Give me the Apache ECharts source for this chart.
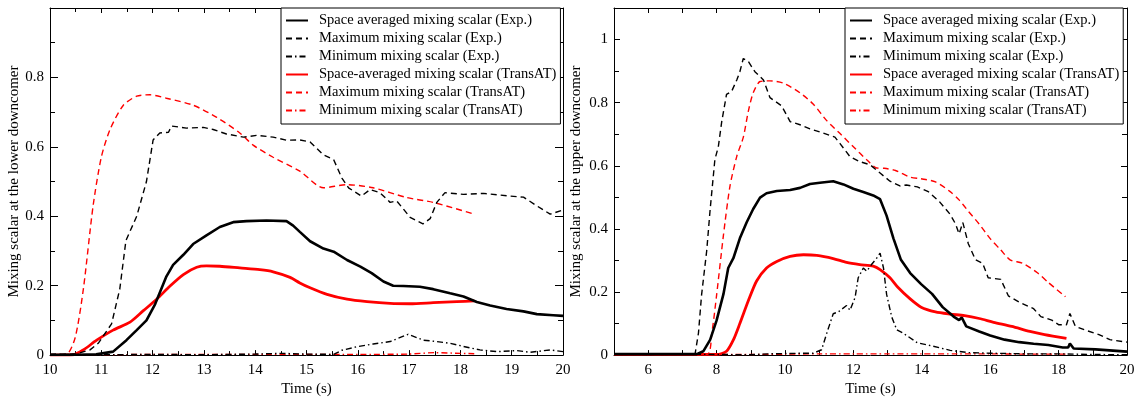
<!DOCTYPE html>
<html>
<head>
<meta charset="utf-8">
<script src="https://cdn.jsdelivr.net/npm/echarts@6/dist/echarts.min.js"></script>
<style>
  html, body { margin: 0; padding: 0; background: #fff; }
  #chart { width: 1138px; height: 402px; }
</style>
</head>
<body>
<div id="chart"></div>
<script>
// lower downcomer (left panel), [time s, mixing scalar]
const lowerAvgExp = [[10,0.001],[10.5,0.001],[10.9,0.002],[11.23,0.01],[11.49,0.043],[11.69,0.072],[11.88,0.1],[12.05,0.147],[12.27,0.227],[12.4,0.26],[12.6,0.289],[12.79,0.32],[13.05,0.345],[13.31,0.369],[13.57,0.383],[13.83,0.386],[14.22,0.388],[14.61,0.386],[14.74,0.373],[14.87,0.355],[15.07,0.328],[15.33,0.307],[15.53,0.298],[15.79,0.274],[16.05,0.255],[16.27,0.236],[16.5,0.212],[16.69,0.2],[16.89,0.199],[17.21,0.197],[17.47,0.19],[17.8,0.178],[18.06,0.169],[18.32,0.153],[18.58,0.143],[18.9,0.133],[19.23,0.126],[19.49,0.118],[19.81,0.115],[20,0.113]];
const lowerMaxExp = [[10,0.002],[10.5,0.003],[10.78,0.015],[10.94,0.034],[11.2,0.09],[11.36,0.19],[11.48,0.33],[11.69,0.4],[11.88,0.5],[12.01,0.62],[12.14,0.64],[12.31,0.642],[12.37,0.66],[12.66,0.654],[12.99,0.656],[13.18,0.65],[13.44,0.637],[13.77,0.628],[14.03,0.633],[14.35,0.628],[14.61,0.619],[14.87,0.62],[15.07,0.614],[15.33,0.577],[15.53,0.563],[15.69,0.51],[15.82,0.482],[16.07,0.458],[16.24,0.477],[16.43,0.468],[16.63,0.44],[16.76,0.444],[17.02,0.397],[17.27,0.378],[17.41,0.393],[17.54,0.44],[17.7,0.468],[18.06,0.463],[18.45,0.466],[18.97,0.458],[19.23,0.455],[19.49,0.43],[19.75,0.406],[20,0.418]];
const lowerMinExp = [[10,0.002],[11,0.001],[12,0.002],[13,0.001],[14,0.003],[14.5,0.005],[15,0.003],[15.53,0.002],[15.69,0.014],[15.98,0.024],[16.3,0.032],[16.63,0.039],[16.98,0.06],[17.28,0.043],[17.54,0.039],[17.8,0.034],[18.06,0.025],[18.38,0.015],[18.71,0.01],[19.1,0.013],[19.36,0.008],[19.75,0.015],[20,0.01]];
const lowerAvgSim = [[10,0],[10.45,0.001],[10.65,0.015],[10.91,0.043],[11.23,0.072],[11.56,0.095],[11.82,0.128],[12.08,0.161],[12.34,0.199],[12.6,0.232],[12.86,0.253],[13.05,0.257],[13.31,0.256],[13.7,0.251],[14.09,0.246],[14.35,0.24],[14.68,0.224],[14.87,0.208],[15.07,0.194],[15.4,0.175],[15.79,0.161],[16.18,0.154],[16.63,0.149],[17.02,0.148],[17.47,0.151],[17.93,0.154],[18.27,0.156]];
const lowerMaxSim = [[10,0],[10.32,0.002],[10.49,0.05],[10.65,0.19],[10.84,0.43],[11.0,0.57],[11.17,0.65],[11.43,0.72],[11.69,0.746],[11.95,0.75],[12.27,0.74],[12.79,0.72],[13.25,0.685],[13.7,0.64],[13.96,0.605],[14.35,0.57],[14.87,0.53],[15.33,0.482],[15.79,0.491],[16.3,0.482],[16.95,0.454],[17.47,0.44],[18.27,0.406]];
const lowerMinSim = [[10,0.001],[11,0.001],[12,0.002],[13,0.002],[14,0.002],[15,0.002],[16,0.002],[17,0.003],[17.5,0.007],[18,0.005],[18.27,0.004]];

// upper downcomer (right panel)
const upperAvgExp = [[5,0.003],[6,0.003],[7,0.003],[7.42,0.003],[7.61,0.012],[7.81,0.048],[8.0,0.11],[8.2,0.193],[8.34,0.276],[8.49,0.307],[8.68,0.37],[8.88,0.421],[9.07,0.463],[9.27,0.499],[9.46,0.513],[9.76,0.52],[10.15,0.523],[10.44,0.53],[10.73,0.542],[11.02,0.546],[11.41,0.551],[11.71,0.541],[12.0,0.527],[12.29,0.517],[12.58,0.506],[12.78,0.494],[12.97,0.442],[13.17,0.37],[13.39,0.302],[13.66,0.26],[13.98,0.225],[14.3,0.194],[14.61,0.152],[14.93,0.122],[15.09,0.111],[15.17,0.119],[15.3,0.091],[15.68,0.075],[16.0,0.062],[16.42,0.049],[16.85,0.041],[17.27,0.036],[17.7,0.032],[18.12,0.024],[18.28,0.024],[18.33,0.037],[18.44,0.021],[19.08,0.018],[20,0.011]];
const upperMaxExp = [[5,0.003],[7.37,0.003],[7.47,0.07],[7.56,0.19],[7.71,0.33],[7.81,0.46],[7.95,0.62],[8.05,0.66],[8.15,0.74],[8.29,0.826],[8.44,0.836],[8.59,0.872],[8.68,0.898],[8.78,0.94],[8.93,0.93],[9.12,0.898],[9.37,0.872],[9.56,0.816],[9.9,0.79],[10.15,0.74],[10.44,0.73],[10.73,0.717],[11.02,0.707],[11.32,0.696],[11.46,0.691],[11.61,0.67],[11.9,0.629],[12.19,0.613],[12.49,0.603],[12.78,0.577],[13.07,0.551],[13.36,0.536],[13.55,0.539],[13.87,0.533],[14.19,0.518],[14.51,0.487],[14.83,0.446],[14.99,0.415],[15.09,0.384],[15.2,0.42],[15.36,0.353],[15.57,0.302],[15.78,0.291],[15.94,0.245],[16.31,0.24],[16.53,0.188],[16.85,0.168],[17.27,0.147],[17.48,0.122],[17.8,0.111],[18.01,0.096],[18.23,0.096],[18.33,0.132],[18.49,0.091],[18.76,0.08],[19.18,0.065],[19.5,0.049],[20,0.041]];
const upperMinExp = [[5,0.003],[6,0.002],[7,0.003],[8,0.002],[9,0.001],[9.5,0.004],[10,0.005],[10.5,0.006],[10.83,0.006],[11.07,0.017],[11.22,0.069],[11.41,0.131],[11.56,0.137],[11.8,0.157],[11.9,0.142],[12.05,0.183],[12.14,0.245],[12.29,0.276],[12.39,0.266],[12.53,0.287],[12.68,0.307],[12.78,0.323],[12.88,0.276],[12.97,0.193],[13.12,0.121],[13.27,0.08],[13.45,0.07],[13.87,0.039],[14.3,0.029],[14.83,0.015],[15.36,0.008],[16,0.006],[17,0.004],[18,0.004],[19,0.002],[20,0.001]];
const upperAvgSim = [[5,0.002],[8.0,0.002],[8.29,0.012],[8.49,0.048],[8.68,0.1],[8.93,0.173],[9.17,0.235],[9.46,0.276],[9.76,0.297],[10.15,0.313],[10.54,0.318],[10.93,0.316],[11.41,0.306],[11.8,0.294],[12.19,0.287],[12.58,0.282],[12.78,0.271],[13.07,0.245],[13.3,0.215],[13.66,0.178],[13.98,0.152],[14.4,0.137],[14.83,0.13],[15.25,0.125],[15.68,0.116],[16.1,0.104],[16.63,0.091],[17.16,0.075],[17.59,0.065],[18.23,0.053]];
const upperMaxSim = [[5,0.002],[7.71,0.002],[7.86,0.07],[8.0,0.19],[8.2,0.38],[8.39,0.535],[8.59,0.63],[8.78,0.69],[8.93,0.774],[9.07,0.831],[9.27,0.867],[9.56,0.869],[9.95,0.862],[10.44,0.831],[10.83,0.795],[11.22,0.743],[11.61,0.702],[12.0,0.66],[12.39,0.619],[12.68,0.593],[12.9,0.592],[13.23,0.585],[13.66,0.564],[13.98,0.559],[14.4,0.549],[14.83,0.518],[15.09,0.492],[15.36,0.456],[15.68,0.415],[16.0,0.369],[16.31,0.333],[16.58,0.302],[16.95,0.291],[17.38,0.261],[17.7,0.23],[18.2,0.185]];
const upperMinSim = [[5,0.002],[8,0.002],[9,0.002],[10,0.003],[11,0.004],[12,0.004],[13,0.004],[14,0.004],[15,0.004],[16,0.004],[17,0.003],[18,0.003],[18.2,0.003]];

const lowerNames = ['Space averaged mixing scalar (Exp.)', 'Maximum mixing scalar (Exp.)', 'Minimum mixing scalar (Exp.)',
  'Space-averaged mixing scalar (TransAT)', 'Maximum mixing scalar (TransAT)', 'Minimum mixing scalar (TransAT)'];
const upperNames = ['Space averaged mixing scalar (Exp.)', 'Maximum mixing scalar (Exp.)', 'Minimum mixing scalar (Exp.)',
  'Space averaged mixing scalar (TransAT)', 'Maximum mixing scalar (TransAT)', 'Minimum mixing scalar (TransAT)'];

const FONT = 'Liberation Serif';
const RED = '#ff0000';
const BLACK = '#000000';

// line styles: solid / dashed / dash-dot
const styles = [
  { color: BLACK, width: 2.6, type: 'solid' },
  { color: BLACK, width: 1.4, type: [6, 4] },
  { color: BLACK, width: 1.4, type: [6, 3, 1.5, 3] },
  { color: RED, width: 2.8, type: 'solid' },
  { color: RED, width: 1.4, type: [6, 4] },
  { color: RED, width: 1.4, type: [6, 3, 1.5, 3] }
];

function fmt(v) {
  return String(+v.toFixed(1));
}

function xAxisOf(grid, min, max, pos, opts) {
  return {
    type: 'value', gridIndex: grid, min: min, max: max, interval: 1, position: pos,
    name: pos === 'bottom' ? 'Time (s)' : '',
    nameLocation: 'middle', nameGap: 21,
    nameTextStyle: { fontFamily: FONT, fontSize: 15, color: '#000' },
    axisLine: { onZero: false, lineStyle: { color: '#000', width: 1 } },
    axisTick: { inside: true, length: 5, lineStyle: { color: '#000' } },
    minorTick: { show: opts.minor > 1, splitNumber: opts.minor || 1, length: 4, lineStyle: { color: '#000' } },
    axisLabel: {
      show: pos === 'bottom', margin: 7, fontFamily: FONT, fontSize: 15, color: '#000',
      showMinLabel: true, showMaxLabel: true,
      formatter: opts.labels
    },
    splitLine: { show: false }
  };
}

function yAxisOf(grid, max, pos, name, gap, majorLen, lastLabel) {
  return {
    type: 'value', gridIndex: grid, min: 0, max: max, interval: 0.2, position: pos,
    name: pos === 'left' ? name : '',
    nameLocation: 'middle', nameGap: gap,
    nameTextStyle: { fontFamily: FONT, fontSize: 15, color: '#000' },
    axisLine: { onZero: false, lineStyle: { color: '#000', width: 1 } },
    axisTick: { inside: true, length: majorLen, lineStyle: { color: '#000' } },
    minorTick: { show: true, splitNumber: 2, length: 5, lineStyle: { color: '#000' } },
    axisLabel: {
      show: pos === 'left', margin: 6, fontFamily: FONT, fontSize: 15, color: '#000',
      formatter: function (v) { return v > lastLabel + 0.01 ? '' : fmt(v); }
    },
    splitLine: { show: false }
  };
}

function makeSeries(names, datas, xi, yi) {
  return datas.map(function (d, i) {
    const s = styles[i];
    return {
      name: names[i], type: 'line', xAxisIndex: xi, yAxisIndex: yi,
      data: d, symbol: 'none', showSymbol: false,
      smooth: i >= 3 ? 0.25 : false,
      lineStyle: { color: s.color, width: s.width, type: s.type },
      itemStyle: { color: s.color },
      z: 10 - i
    };
  });
}

function legendOf(names, left) {
  return {
    orient: 'vertical', left: left, top: 8,
    data: names,
    backgroundColor: '#fff',
    borderColor: '#000', borderWidth: 1,
    padding: [5, 4, 6, 4],
    itemWidth: 22, itemHeight: 10, itemGap: 3,
    selectedMode: false,
    itemStyle: { opacity: 0 },
    textStyle: { fontFamily: FONT, fontSize: 14.5, color: '#000', lineHeight: 14, padding: [0, 0, 0, 6] }
  };
}

const chart = echarts.init(document.getElementById('chart'), null, { renderer: 'canvas' });

const option = {
  animation: false,
  backgroundColor: '#fff',
  grid: [
    { left: 50, top: 8, width: 513, height: 354, containLabel: false },
    { left: 614, top: 8, width: 513, height: 354, containLabel: false }
  ],
  xAxis: [
    xAxisOf(0, 10, 20, 'bottom', { minor: 2 }),
    xAxisOf(0, 10, 20, 'top', { minor: 2 }),
    xAxisOf(1, 5, 20, 'bottom', { minor: 1, labels: function (v) { return v % 2 === 0 ? String(v) : ''; } }),
    xAxisOf(1, 5, 20, 'top', { minor: 1 })
  ],
  yAxis: [
    yAxisOf(0, 1, 'left', 'Mixing scalar at the lower downcomer', 27, 8, 0.8),
    yAxisOf(0, 1, 'right', '', 27, 8, 0.8),
    yAxisOf(1, 1.1, 'left', 'Mixing scalar at the upper downcomer', 30, 6, 1.0),
    yAxisOf(1, 1.1, 'right', '', 30, 6, 1.0)
  ],
  legend: [legendOf(lowerNames, 281), legendOf(upperNames, 845)],
  series: []
    .concat(makeSeries(lowerNames, [lowerAvgExp, lowerMaxExp, lowerMinExp, lowerAvgSim, lowerMaxSim, lowerMinSim], 0, 0))
    .concat(makeSeries(upperNames, [upperAvgExp, upperMaxExp, upperMinExp, upperAvgSim, upperMaxSim, upperMinSim], 2, 2))
};

chart.setOption(option);
</script>
</body>
</html>
